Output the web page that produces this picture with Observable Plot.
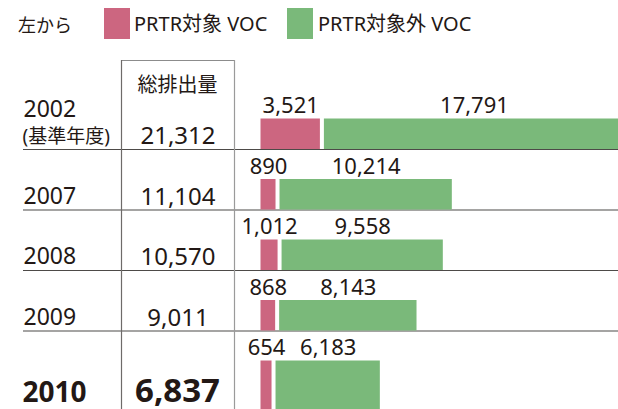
<!DOCTYPE html>
<html><head><meta charset="utf-8">
<script src="https://cdn.jsdelivr.net/npm/d3@7"></script>
<script src="https://cdn.jsdelivr.net/npm/@observablehq/plot@0.6"></script>
<style>
html,body{margin:0;padding:0;background:#fff}
body{width:618px;height:409px;overflow:hidden;font-family:"Noto Sans","Noto Sans CJK JP",sans-serif;color:#231815}
#legend{position:relative;height:54px}
#legend span{position:absolute;white-space:nowrap}
#legend .sw{width:26px;height:31px;top:8px}
#legend .lt{font-size:20px;top:10px;line-height:28px}
#legend .lead{font-size:18px;top:11px;line-height:28px}
#chart svg{display:block}
</style></head><body>
<div id="legend"></div>
<div id="chart"></div>
<script>
const years = ["2002", "2007", "2008", "2009", "2010"];
const prtr = [3521, 890, 1012, 868, 654];
const nonPrtr = [17791, 10214, 9558, 8143, 6183];
const totals = [21312, 11104, 10570, 9011, 6837];
const yearNotes = ["(基準年度)", "", "", "", ""];
const seriesNames = ["PRTR対象 VOC", "PRTR対象外 VOC"];
const seriesColors = ["#cc6680", "#7ab97a"];
const legendLead = "左から";
const totalHeader = "総排出量";
const highlightYear = "2010";

const ink = "#231815";
const font = '"Noto Sans","Noto Sans CJK JP",sans-serif';

// legend (HTML, above the SVG)
const legend = document.getElementById("legend");
legend.innerHTML =
  `<span class="lead" style="left:18px">${legendLead}</span>` +
  `<span class="sw" style="left:104px;background:${seriesColors[0]}"></span>` +
  `<span class="lt" style="left:134px">${seriesNames[0]}</span>` +
  `<span class="sw" style="left:287px;background:${seriesColors[1]}"></span>` +
  `<span class="lt" style="left:318px">${seriesNames[1]}</span>`;

const rows = years.map((y, i) => ({year: y, prtr: prtr[i], non: nonPrtr[i], total: totals[i], note: yearNotes[i]}));
const normal = rows.filter(r => r.year !== highlightYear);
const hi = rows.filter(r => r.year === highlightYear);
const fmt = d3.format(",");
const step = 60.5;
const top0 = 34.5;

function bars(data, extra) {
  return [
    Plot.barX(data, {y: "year", x1: 0, x2: "prtr", fill: seriesColors[0], insetTop: 30, ...extra}),
    Plot.barX(data, {y: "year", x1: "prtr", x2: d => d.prtr + d.non, dx: 4, fill: seriesColors[1], insetTop: 30, clip: true, ...extra})
  ];
}

const chart = Plot.plot({
  width: 618,
  height: 355,
  marginLeft: 0, marginRight: 0, marginTop: 6, marginBottom: 0,
  x: {domain: [0, 21192], range: [260.5, 618], axis: null},
  y: {type: "band", domain: years, range: [top0, top0 + step * years.length], padding: 0, round: false, axis: null},
  style: {fontFamily: font, color: ink, background: "white"},
  marks: [
    // table lines
    Plot.ruleY(normal, {y: "year", dy: step / 2, insetLeft: 23, stroke: "#4d4a48", strokeWidth: 1.2}),
    Plot.ruleY([years[0]], {y: d => d, dy: -(step / 2 + 28.5), insetLeft: 121, insetRight: 384, stroke: "#8c8c8c", strokeWidth: 1.2}),
    Plot.ruleX([0], {dx: -139.5, stroke: "#6e6b69", strokeWidth: 1.2}),
    Plot.ruleX([0], {dx: -26.5, stroke: "#9a9a9a", strokeWidth: 1.2}),
    // bars
    ...bars(normal, {}),
    ...bars(hi, {insetBottom: -24}),
    // value labels
    Plot.text(rows, {y: "year", x: d => d.prtr / 2, text: d => fmt(d.prtr), lineAnchor: "bottom", dy: -6, fontSize: 22, fill: ink}),
    Plot.text(rows, {y: "year", x: d => d.prtr + d.non / 2, text: d => fmt(d.non), lineAnchor: "bottom", dx: 4, dy: -6, fontSize: 22, fill: ink}),
    // header
    Plot.text([totalHeader], {frameAnchor: "top-left", dx: 177, dy: 31, lineAnchor: "bottom", textAnchor: "middle", fontSize: 20, fill: ink}),
    // year labels
    Plot.text(normal.filter(r => r.note), {y: "year", text: "year", frameAnchor: "left", textAnchor: "start", dx: 23, dy: -2, lineAnchor: "bottom", fontSize: 23, fill: ink}),
    Plot.text(normal.filter(r => r.note), {y: "year", text: "note", frameAnchor: "left", textAnchor: "start", dx: 22, dy: 24, lineAnchor: "bottom", fontSize: 19, fill: ink}),
    Plot.text(normal.filter(r => !r.note), {y: "year", text: "year", frameAnchor: "left", textAnchor: "start", dx: 23, dy: 24, lineAnchor: "bottom", fontSize: 23, fill: ink}),
    Plot.text(hi, {y: "year", text: "year", frameAnchor: "left", textAnchor: "start", dx: 22, dy: 41, lineAnchor: "bottom", fontSize: 28, fontWeight: "bold", fill: ink}),
    // totals
    Plot.text(normal, {y: "year", text: d => fmt(d.total), frameAnchor: "left", textAnchor: "middle", dx: 177.5, dy: 25, lineAnchor: "bottom", fontSize: 24, fill: ink}),
    Plot.text(hi, {y: "year", text: d => fmt(d.total), frameAnchor: "left", textAnchor: "middle", dx: 177, dy: 41, lineAnchor: "bottom", fontSize: 33, fontWeight: "bold", fill: ink})
  ]
});
document.getElementById("chart").appendChild(chart);
</script>
</body></html>
